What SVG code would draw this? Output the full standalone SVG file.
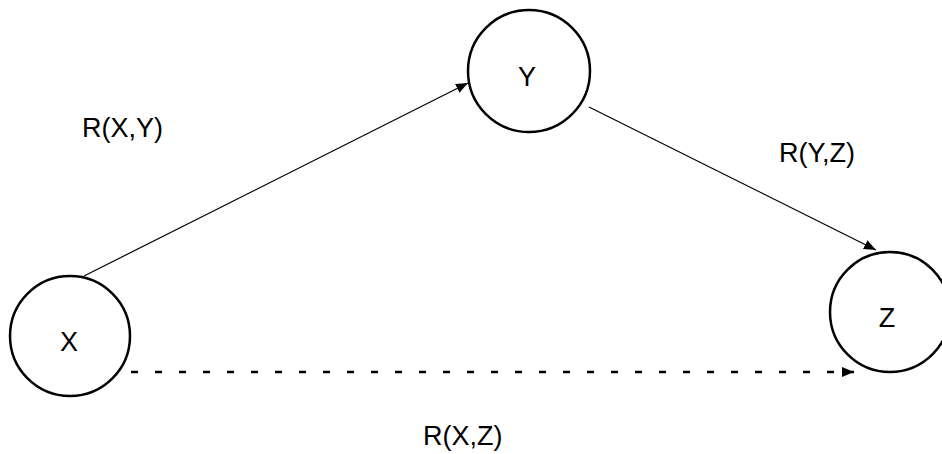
<svg xmlns="http://www.w3.org/2000/svg" width="942" height="454" viewBox="0 0 942 454">
<style>
.node{fill:#fff;stroke:#000;stroke-width:2.5}
.lbl{font-family:"Liberation Sans",Arial,sans-serif;font-size:27px;fill:#000}
.edge{stroke:#000;stroke-width:1.2;fill:none}
.dash{stroke:#000;stroke-width:2.5;fill:none;stroke-dasharray:7 17}
</style>
<defs>
<marker id="ah" markerUnits="userSpaceOnUse" markerWidth="14" markerHeight="10" refX="12" refY="5" orient="auto">
<path d="M0,0 L12,5 L0,10 Z" fill="#000"/>
</marker>
</defs>
<g id="connectors">
<line class="edge" x1="84" y1="276" x2="468" y2="83" marker-end="url(#ah)"/>
<line class="edge" x1="589" y1="107" x2="876" y2="250" marker-end="url(#ah)"/>
<line class="dash" x1="131" y1="372" x2="854" y2="372" marker-end="url(#ah)"/>
</g>
<g id="node-X">
<circle class="node" cx="70" cy="336" r="60"/>
<text class="lbl" x="69" y="351" text-anchor="middle">X</text>
</g>
<g id="node-Y">
<circle class="node" cx="529" cy="71" r="61"/>
<text class="lbl" x="527" y="86" text-anchor="middle">Y</text>
</g>
<g id="node-Z">
<circle class="node" cx="890" cy="312" r="60"/>
<text class="lbl" x="887" y="327" text-anchor="middle">Z</text>
</g>
<g id="labels">
<text class="lbl" x="82" y="137">R(X,Y)</text>
<text class="lbl" x="779" y="162">R(Y,Z)</text>
<text class="lbl" x="423" y="445">R(X,Z)</text>
</g>
</svg>
